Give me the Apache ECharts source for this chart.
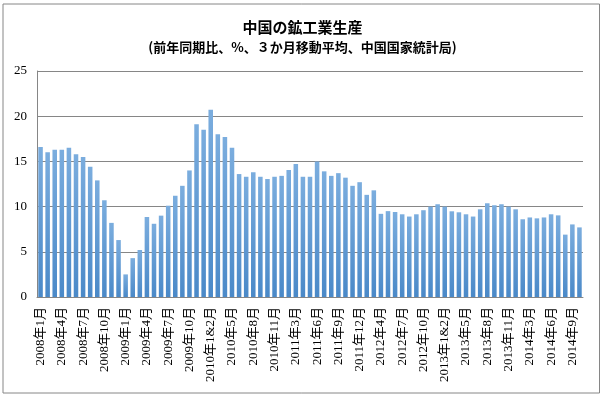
<!DOCTYPE html>
<html>
<head>
<meta charset="utf-8">
<script src="https://cdn.jsdelivr.net/npm/echarts@6/dist/echarts.min.js"></script>
<style>
  html, body { margin: 0; padding: 0; background: #fff; }
  #main { width: 605px; height: 398px; }
</style>
</head>
<body>
<div id="main"></div>
<script>
// 月のラベル（1月と2月は合算）
var years = [2008, 2009, 2010, 2011, 2012, 2013, 2014];
var monthsFull = ['1月', '2月', '3月', '4月', '5月', '6月', '7月', '8月', '9月', '10月', '11月', '12月'];
var monthsMerged = ['1&2月', '3月', '4月', '5月', '6月', '7月', '8月', '9月', '10月', '11月', '12月'];
var lastMonth2014 = '10月';

// 前年同期比（%、3か月移動平均）
var values2008 = [16.6, 16.0, 16.3, 16.3, 16.5, 15.8, 15.5, 14.4, 12.9, 10.7, 8.2, 6.3];
var values2009 = [2.5, 4.3, 5.2, 8.85, 8.1, 9.0, 10.1, 11.2, 12.3, 14.0, 19.1, 18.5];
var values2010 = [20.7, 18.0, 17.7, 16.5, 13.6, 13.3, 13.8, 13.3, 13.05, 13.3, 13.4];
var values2011 = [14.05, 14.7, 13.3, 13.3, 15.0, 13.9, 13.4, 13.7, 13.2, 12.3, 12.7];
var values2012 = [11.3, 11.8, 9.2, 9.5, 9.4, 9.15, 8.9, 9.15, 9.6, 10.0, 10.26];
var values2013 = [10.0, 9.48, 9.37, 9.15, 8.9, 9.7, 10.37, 10.15, 10.26, 10.0, 9.7];
var values2014 = [8.6, 8.8, 8.7, 8.8, 9.15, 9.03, 6.9, 8.03, 7.7];

var yTicks = [0, 5, 10, 15, 20, 25];

var categories = [];
years.forEach(function(y) {
    var list = y < 2010 ? monthsFull : monthsMerged;
    for (var i = 0; i < list.length; i++) {
        categories.push(y + '年' + list[i]);
        if (y === 2014 && list[i] === lastMonth2014) break;
    }
});

var values = [].concat(values2008, values2009, values2010, values2011, values2012, values2013, values2014);

var chart = echarts.init(document.getElementById('main'), null, { renderer: 'canvas' });

var serif = "'Liberation Serif', 'Noto Sans CJK JP', serif";
var gothic = "'Noto Sans CJK JP', sans-serif";

chart.setOption({
    animation: false,
    backgroundColor: '#fff',
    title: [{
        text: '中国の鉱工業生産',
        left: 'center',
        top: 15,
        textStyle: { fontFamily: gothic, fontSize: 15, fontWeight: 'bold', color: '#000' }
    }, {
        text: '(前年同期比、%、３か月移動平均、中国国家統計局)',
        left: 'center',
        top: 36,
        textStyle: { fontFamily: gothic, fontSize: 13, fontWeight: 'bold', color: '#000' }
    }],
    graphic: [{
        type: 'rect',
        shape: { x: 3, y: 4, width: 596.5, height: 389 },
        style: { fill: 'none', stroke: '#868686', lineWidth: 1 },
        z: -1
    }],
    grid: { left: 37, right: 22, top: 71, bottom: 101 },
    xAxis: {
        type: 'category',
        data: categories,
        axisLine: { lineStyle: { color: '#868686', width: 1 } },
        axisTick: { show: false },
        axisLabel: {
            interval: 2,
            rotate: 90,
            margin: 10,
            fontFamily: serif,
            fontSize: 13,
            color: '#000'
        }
    },
    yAxis: {
        type: 'value',
        min: yTicks[0],
        max: yTicks[yTicks.length - 1],
        interval: 5,
        axisLine: { show: true, lineStyle: { color: '#868686', width: 1 } },
        axisTick: { show: false },
        splitLine: { lineStyle: { color: '#868686', width: 1 } },
        axisLabel: { margin: 10, fontFamily: serif, fontSize: 13, color: '#000' }
    },
    series: [{
        type: 'bar',
        data: values,
        barWidth: '64%',
        itemStyle: {
            color: new echarts.graphic.LinearGradient(0, 0, 0, 1, [
                { offset: 0, color: '#7badde' },
                { offset: 1, color: '#4a89c8' }
            ])
        }
    }]
});
</script>
</body>
</html>
